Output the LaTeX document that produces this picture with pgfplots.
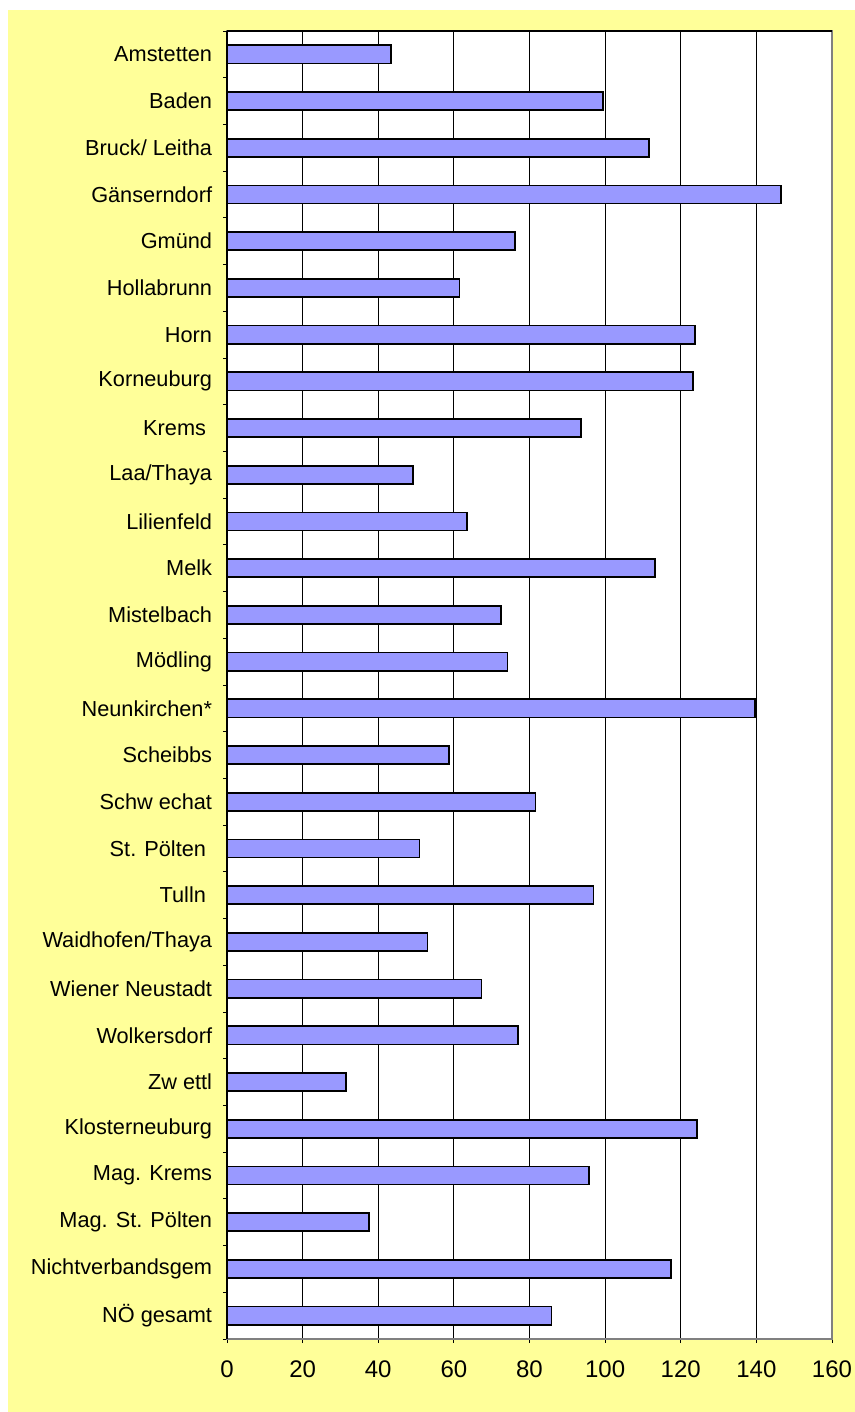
\documentclass[border=0pt]{standalone}
\usepackage{fontspec}
\setmainfont{Liberation Sans}
\usepackage{pgfplots}
\pgfplotsset{compat=1.18}
\definecolor{bgyellow}{HTML}{FFFF99}
\definecolor{barblue}{HTML}{9999FF}
\begin{document}
\begin{tikzpicture}[x=1pt,y=1pt]
% page: 855x1412 px, 1px = 0.75pt; axis lower left at px (227,1339)
\fill[white] (-170.25,-54.75) rectangle (471,1004.25);
\fill[bgyellow] (-164.25,-54.75) rectangle (471,996.75);
\begin{axis}[
    at={(0,0)}, anchor=south west,
    scale only axis,
    width=453.75pt, height=981pt,
    xbar, bar width=0.39,
    xmin=0, xmax=160,
    ymin=-0.5, ymax=27.5,
    y dir=reverse,
    axis background/.style={fill=white},
    axis line style={draw=gray, line width=0.8pt},
    xtick={0,20,...,160},
    xmajorgrids,
    major grid style={black, line width=0.6pt},
    ytick={0,...,27},
    yticklabels={Amstetten, Baden, Bruck/ Leitha, Gänserndorf, Gmünd, Hollabrunn, Horn, Korneuburg, {Krems\kern0.28em}, Laa/Thaya, Lilienfeld, Melk, Mistelbach, Mödling, Neunkirchen*, Scheibbs, Schw echat, {St. Pölten\kern0.28em}, {Tulln\kern0.28em}, Waidhofen/Thaya, Wiener Neustadt, Wolkersdorf, Zw ettl, Klosterneuburg, Mag. Krems, Mag. St. Pölten, Nichtverbandsgem, NÖ gesamt},
    minor ytick={-0.5,0.5,...,27.5},
    tick pos=left,
    tick align=outside,
    major tick length=3pt,
    minor tick length=3pt,
    y tick style={draw=none},
    minor y tick style={draw=black, line width=0.6pt},
    x tick style={black, line width=0.6pt},
    /pgf/number format/assume math mode=true,
    yticklabel style={anchor=east, inner sep=0pt, xshift=-8pt, font=\fontsize{16.3}{19}\selectfont},
    xticklabel style={anchor=north, inner sep=0pt, yshift=-13pt, font=\fontsize{18}{21}\selectfont},
    after end axis/.code={
        \draw[black, line width=0.8pt] (rel axis cs:0,0) -- (rel axis cs:0,1);
        \draw[black, line width=0.8pt] (rel axis cs:0,1) -- (rel axis cs:1,1);
    },
]
\addplot[fill=barblue, draw=black, line width=1.3pt] coordinates {
    (43.4,0) (99.5,1) (111.6,2) (146.6,3) (76.2,4) (61.5,5) (123.8,6)
    (123.2,7) (93.7,8) (49.2,9) (63.4,10) (113.2,11) (72.5,12) (74.2,13)
    (139.6,14) (58.8,15) (81.6,16) (50.9,17) (96.9,18) (53.0,19) (67.3,20)
    (76.9,21) (31.4,22) (124.3,23) (95.8,24) (37.6,25) (117.5,26) (85.8,27)
};
\end{axis}
\pgfresetboundingbox
\path[use as bounding box] (-170.25,-54.75) rectangle (471,1004.25);
\end{tikzpicture}
\end{document}
